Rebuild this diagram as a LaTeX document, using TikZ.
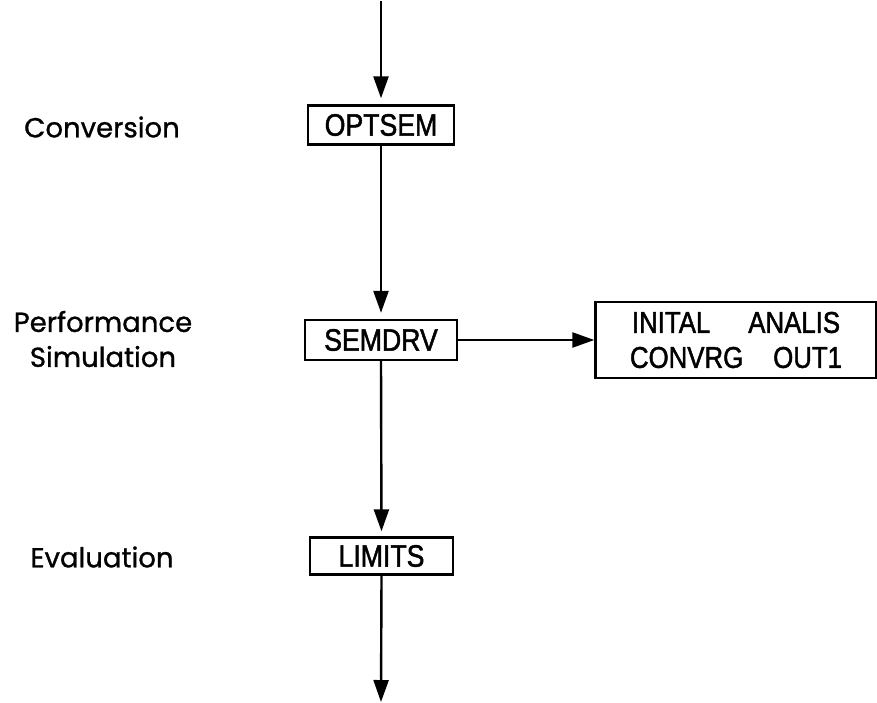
\documentclass[tikz,border=0pt]{standalone}
\usepackage{fontspec}
\usetikzlibrary{arrows.meta}
\newfontfamily\labelfont[FakeBold=1]{Poppins}
\newfontfamily\boxfont[FakeStretch=0.86,FakeBold=1.5]{Liberation Sans}
\begin{document}
\begin{tikzpicture}[x=1pt,y=-1pt,
  flow/.style={line width=2.4pt,-{Triangle[length=22pt,width=15pt]}},
  prog/.style={draw,line width=2.4pt,inner sep=0pt,font=\boxfont\fontsize{31}{33}\selectfont},
  stage/.style={font=\labelfont\fontsize{27.5}{35}\selectfont,align=center}]
\useasboundingbox (0,0) rectangle (877,702);

% program boxes along the main chain
\node[prog,minimum width=146pt,minimum height=39pt] (optsem) at (381,125) {OPTSEM};
\node[prog,minimum width=152pt,minimum height=40pt] (semdrv) at (381,340) {SEMDRV};
\node[prog,minimum width=143pt,minimum height=37pt] (limits) at (381.5,556) {LIMITS};

% subroutine group called from SEMDRV
\node[prog,minimum width=281pt,minimum height=76pt,align=center,
      font=\boxfont\fontsize{30}{35}\selectfont] (subs) at (736,340)
  {INITAL\hspace{38pt}ANALIS\\CONVRG\hspace{30pt}OUT1};

% stage labels
\node[stage] (conv) at (102,127) {Conversion};
\node[stage] (perf) at (103,339) {Performance\\Simulation};
\node[stage] (eval) at (102,557) {Evaluation};

% connectors
\coordinate (in) at (381,1);
\coordinate (out) at (381,702);
\draw[flow,shorten >=6pt] (in) -- (optsem.north);
\draw[flow,shorten >=6pt] (optsem.south) -- (semdrv.north);
\draw[flow,shorten >=5pt] (semdrv.south) -- (limits.north);
\draw[flow] (limits.south) -- (out);
\draw[flow] (semdrv.east) -- (subs.west);
\end{tikzpicture}
\end{document}
